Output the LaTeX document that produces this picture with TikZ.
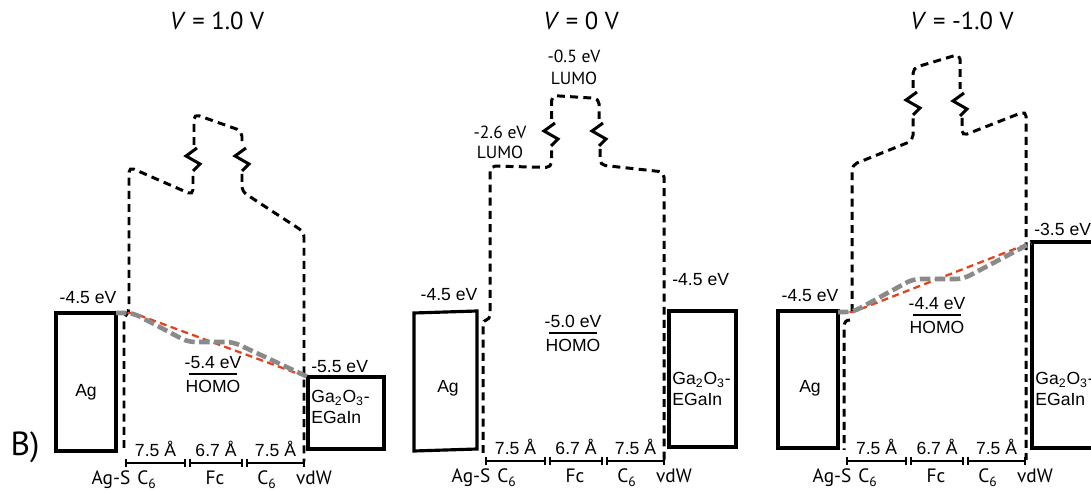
\documentclass[tikz,border=0pt]{standalone}
\usepackage{fontspec}
\setmainfont{Liberation Sans}
\newfontfamily\myriadish{PT Sans}
\usepackage{tikz}
\definecolor{BandGray}{HTML}{8A8A8A}
\definecolor{BandRed}{HTML}{E8401C}
\tikzset{
  metal/.style={line width=1.8pt},
  lenbar/.style={line width=1.4pt},
  lumo/.style={line width=1.7pt,dash pattern=on 4.5pt off 3pt},
  zig/.style={line width=1.7pt},
  homo/.style={line width=1.7pt},
  hoppath/.style={BandGray,line width=2.6pt,dash pattern=on 6pt off 2.5pt},
  fitline/.style={BandRed,line width=1.3pt,dash pattern=on 4pt off 2.5pt},
  lab/.style={font=\fontsize{10}{12}\selectfont,inner sep=0pt},
  lab2/.style={font=\myriadish\fontsize{10}{12}\selectfont,inner sep=0pt},
  ttl/.style={font=\myriadish\fontsize{14}{16}\selectfont,inner sep=0pt,anchor=base},
  zz/.pic={\draw[zig] (4,-11) -- (-7,-3) -- (7,5) -- (0,12);}
}

\begin{document}
\begin{tikzpicture}[x=0.02cm,y=-0.02cm]
  \useasboundingbox (0,0) rectangle (1091,492);
  % titles
  \node[ttl] (t1) at (217,30) {\textit{V} = 1.0 V};
  \node[ttl] (t2) at (581,30) {\textit{V} = 0 V};
  \node[ttl] (t3) at (962,30) {\textit{V} = -1.0 V};
  \node[font=\myriadish\fontsize{19}{21}\selectfont,inner sep=0pt,anchor=base] (panel) at (25,456) {B)};

  % electrodes
  \draw[metal] (56,313) rectangle (116,451);
  \draw[metal] (414,313) -- (477,311) -- (477,449) -- (414,451) -- cycle;
  \draw[metal] (778,311) rectangle (838,448);
  \draw[metal] (308,377) rectangle (384,449);
  \draw[metal] (669,311) rectangle (736,447);
  \draw[metal] (1032,242) rectangle (1110,448);
  \foreach \i/\x/\y in {1/86/397,2/448/393,3/810/393}
    \node[lab,anchor=base] (ag\i) at (\x,\y) {Ag};
  \foreach \i/\x/\y in {1/88/304,2/449/301,3/810/302}
    \node[lab,anchor=base] (wf\i) at (\x,\y) {-4.5 eV};
  \foreach \i/\x/\y in {1/311/390,2/672/372,3/1035/372}
    \node[lab,anchor=north west,align=left] (ga\i) at (\x,\y) {Ga\textsubscript{2}O\textsubscript{3}-\\EGaIn};
  \node[lab,anchor=base west] (ge1) at (311,373) {-5.5 eV};
  \node[lab,anchor=base west] (ge2) at (672,286) {-4.5 eV};
  \node[lab,anchor=base west] (ge3) at (1034,236) {-3.5 eV};

  % LUMO outlines
  \draw[lumo] (124,448) -- (124,321) .. controls (124,315) and (129,314) .. (129,308) [rounded corners=3pt] -- (129,167) -- (193,195) -- (193,174);
  \pic at (193,159) {zz};
  \draw[lumo,rounded corners=3pt] (194,145) -- (194,114) -- (242,131) -- (242,145);
  \pic at (242,159) {zz};
  \draw[lumo,rounded corners=3pt] (242,174) -- (242,191.5) -- (304,232) -- (304,462);

  \draw[lumo] (483,453) -- (483,324) .. controls (483,319) and (490,321) .. (490,315) [rounded corners=3pt] -- (490,166) -- (551.5,167.5) -- (551.5,149);
  \pic at (551,134) {zz};
  \draw[lumo,rounded corners=3pt] (551.5,119) -- (551.5,95.5) -- (599,98.5) -- (599,119);
  \pic at (599,134) {zz};
  \draw[lumo,rounded corners=3pt] (600,149) -- (600,165) -- (664,172) -- (664,460);
  \node[lab2,anchor=base] (lu1) at (574,63) {-0.5 eV};
  \node[lab2,anchor=base] (lu2) at (574,85) {LUMO};
  \node[lab2,anchor=base] (lu3) at (500,139) {-2.6 eV};
  \node[lab2,anchor=base] (lu4) at (500,159) {LUMO};

  \draw[lumo,rounded corners=3pt] (852,312) -- (852,165) -- (913,140.5) -- (913,118);
  \pic at (913,103) {zz};
  \draw[lumo,rounded corners=3pt] (913,88) -- (913,68) -- (960,54) -- (960,89);
  \pic at (960,104) {zz};
  \draw[lumo,rounded corners=3pt] (962,118) -- (962,136) -- (1026,111) -- (1026,460);
  \draw[lumo] (850,320) .. controls (846,320) and (844,322) .. (844,328) -- (844,450);

  % HOMO levels
  \foreach \i/\x/\y/\v in {1/213/374/-5.4,2/573/333/-5.0,3/937/315/-4.4} {
    \draw[homo] (\x-24,\y) -- (\x+24,\y);
    \node[lab,anchor=base] (hv\i) at (\x,\y-5) {\v\ eV};
    \node[lab,anchor=base] (hl\i) at (\x,\y+19) {HOMO};
  }

  % hopping paths
  \draw[fitline] (116,313) -- (133,313) -- (307,377);
  \draw[hoppath,rounded corners=4pt] (116,313) -- (133,313) -- (188,342) -- (233,342) -- (308,377);
  \draw[fitline] (838,312) -- (853,312) -- (1030,243);
  \draw[hoppath,rounded corners=4pt] (838,312) -- (853,312) -- (913,279) -- (963,279) -- (1031,243);

  % length bars
  \foreach \i/\xa/\yb in {1/126/463,2/486/461,3/847/461} {
    \foreach \s/\e/\d in {0/59/7.5,64/116/6.7,121/178/7.5} {
      \draw[lenbar] (\xa+\s,\yb) -- (\xa+\e,\yb);
      \draw[lenbar] (\xa+\s,\yb-4) -- (\xa+\s,\yb+4);
      \draw[lenbar] (\xa+\e,\yb-4) -- (\xa+\e,\yb+4);
      \node[lab,anchor=base] at (\xa+\s/2+\e/2,\yb-6) {\d\ Å};
    }
    \node[lab2,font=\myriadish\fontsize{11}{13}\selectfont,anchor=base] (ags\i) at (\xa-15,\yb+22) {Ag-S};
    \node[lab2,font=\myriadish\fontsize{11}{13}\selectfont,anchor=base] (ca\i) at (\xa+21,\yb+22) {C\textsubscript{6}};
    \node[lab2,font=\myriadish\fontsize{11}{13}\selectfont,anchor=base] (fc\i) at (\xa+89,\yb+22) {Fc};
    \node[lab2,font=\myriadish\fontsize{11}{13}\selectfont,anchor=base] (cb\i) at (\xa+141,\yb+22) {C\textsubscript{6}};
    \node[lab2,font=\myriadish\fontsize{11}{13}\selectfont,anchor=base] (vdw\i) at (\xa+188,\yb+22) {vdW};
  }
\end{tikzpicture}
\end{document}
